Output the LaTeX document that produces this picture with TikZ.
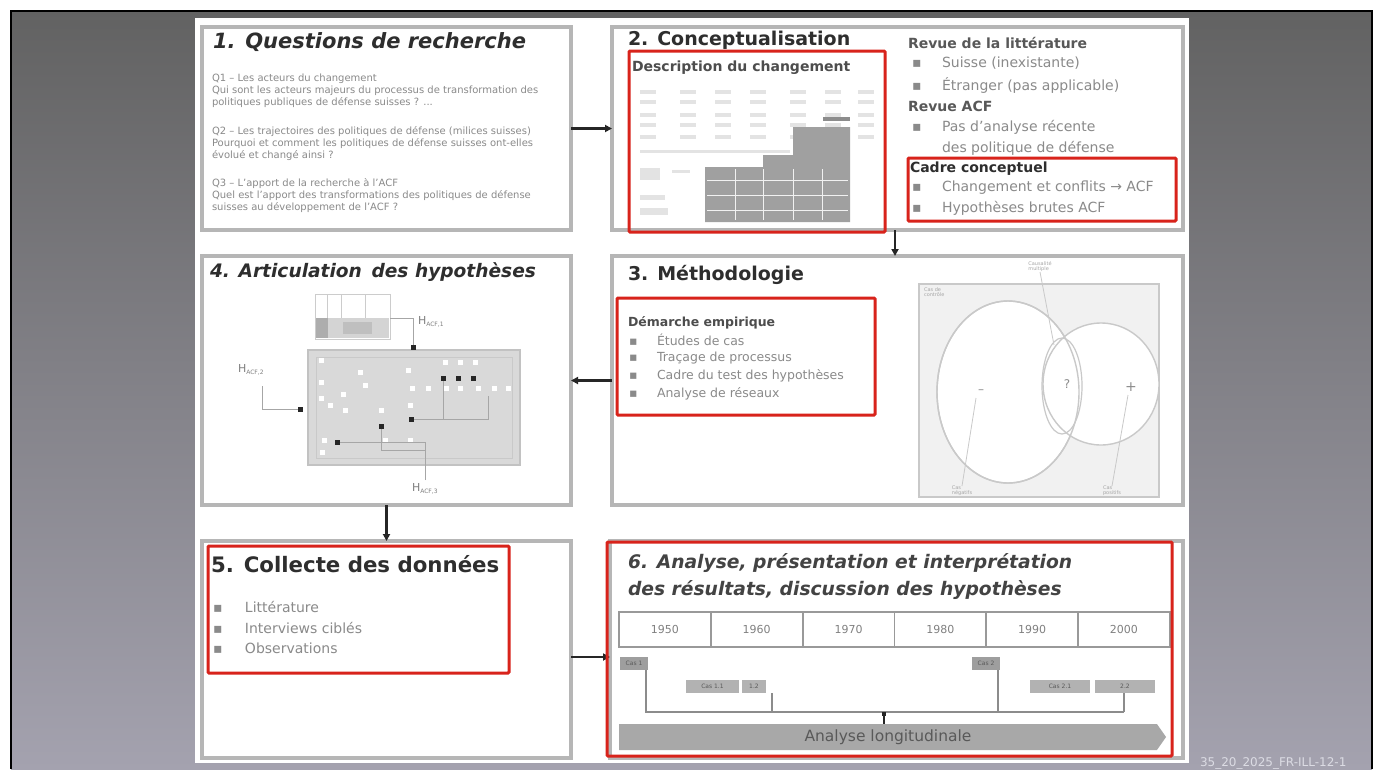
\documentclass[tikz,border=0pt]{standalone}
\usepackage{fontspec}
\setmainfont{DejaVu Sans}
\usetikzlibrary{arrows.meta,shapes.geometric,shapes.arrows}
\definecolor{boxgray}{HTML}{B6B6B6}
\definecolor{redc}{HTML}{D8231B}
\definecolor{txtg}{HTML}{8A8A8A}
\definecolor{txtd}{HTML}{2E2E2E}
\definecolor{bgtop}{HTML}{626262}
\definecolor{bgbot}{HTML}{A4A2AF}
\definecolor{venn}{HTML}{C9C9C9}
\definecolor{vennbg}{HTML}{F1F1F1}
\definecolor{tph}{HTML}{E3E3E3}
\definecolor{blk}{HTML}{A0A0A0}
\definecolor{footc}{HTML}{DCDCE4}
\newcommand{\fsz}[1]{\fontsize{#1}{#1}\selectfont}
\newcommand{\bul}{\makebox[30pt][l]{▪}}
\begin{document}
\begin{tikzpicture}[x=1pt,y=-1pt,
  every node/.style={inner sep=0pt,outer sep=0pt},
  panel/.style={draw=boxgray,line width=4pt,fill=white,anchor=north west},
  redbox/.style={draw=redc,line width=3pt,rounded corners=1pt,anchor=north west},
  arr/.style={draw=black!85,line width=2.2pt,-{Triangle[length=7pt,width=7pt]}},
  ttl/.style={anchor=west,text=txtd,font=\fsz{19}\bfseries},
  ttli/.style={anchor=west,text=txtd,font=\fsz{21}\bfseries\itshape},
  body/.style={anchor=north west,align=left,text=txtg,font=\fontsize{10}{12}\selectfont},
  rtxt/.style={anchor=west,text=txtg,font=\fsz{14}},
  rhd/.style={anchor=west,text=txtd!80,font=\fsz{14}\bfseries},
  sq/.style={fill=white,minimum size=5pt},
  bsq/.style={fill=black!85,minimum size=5pt},
  net/.style={draw=black!35,line width=1pt},
  tiny/.style={text=black!35,font=\fsz{5},align=left},
  lead/.style={draw=venn,line width=0.8pt},
  tl/.style={draw=black!45,line width=1.5pt},
  caslab/.style={fill=black!38,text=black!65,font=\fsz{6},minimum height=13pt,anchor=north west}
]
% background
\useasboundingbox (0,0) rectangle (1378,769);
\fill[white] (0,0) rectangle (1378,769);
\shade[top color=bgtop,bottom color=bgbot] (11,11) rectangle (1372,769);
\draw[black,line width=2.5pt] (11,769) -- (11,11) -- (1372,11) -- (1372,769);
\fill[white] (195,18) rectangle (1189,763);

% boxes
\node[panel,minimum width=369,minimum height=203] (b1) at (202,27) {};
\node[panel,minimum width=571,minimum height=203] (b2) at (612,27) {};
\node[panel,minimum width=571,minimum height=249] (b3) at (612,256) {};
\node[panel,minimum width=369,minimum height=249] (b4) at (202,256) {};
\node[panel,minimum width=369,minimum height=217] (b5) at (202,541) {};
\node[panel,minimum width=573,minimum height=217] (b6) at (610,541) {};

% connectors
\coordinate (x23) at (895,0);
\coordinate (y56) at (0,657);
\draw[arr] (b1.east) -- (b2.west);
\draw[arr] (b2.south -| x23) -- (b3.north -| x23);
\draw[arr] (b3.west) -- (b4.east);
\draw[arr] (b4.south) -- (b5.north);
\draw[arr] (b5.east |- y56) -- (b6.west |- y56);

% ---- Box 1
\node[ttli] (t1) at (213,42) {1. Questions de recherche};
\node[body] (q1) at (212,74) {Q1 – Les acteurs du changement\\Qui sont les acteurs majeurs du processus de transformation des\\politiques publiques de défense suisses ? ...};
\node[body] (q2) at (212,126) {Q2 – Les trajectoires des politiques de défense (milices suisses)\\Pourquoi et comment les politiques de défense suisses ont-elles\\évolué et changé ainsi ?};
\node[body] (q3) at (212,178) {Q3 – L'apport de la recherche à l'ACF\\Quel est l'apport des transformations des politiques de défense\\suisses au développement de l'ACF ?};

% ---- Box 2
\node[ttl] (t2) at (628,40) {2. Conceptualisation};
\node[anchor=west,text=txtd!85,font=\fsz{14}\bfseries] (d2) at (632,68) {Description du changement};
% table placeholders
\foreach \yy in {90,100,113,123,135}{
  \foreach \xx in {640,680,715,750,790,825,858}{
    \fill[tph] (\xx,\yy) rectangle ++(16,4);
  }
}
\fill[tph] (640,150) rectangle (790,153);
\fill[tph] (640,168) rectangle (660,180);
\fill[tph] (640,195) rectangle (665,200);
\fill[tph] (640,208) rectangle (668,215);
\fill[tph] (672,170) rectangle (690,173);
\fill[blk] (705,222) -- (705,167) -- (763,167) -- (763,155) -- (793,155) -- (793,127) -- (850,127) -- (850,222) -- cycle;
\fill[black!45] (823,117) rectangle (850,121);
\foreach \yy in {180,195,210}{\draw[white!85!blk,line width=0.6pt] (707,\yy) -- (848,\yy);}
\foreach \xx in {735,763,793,822}{\draw[white!85!blk,line width=0.6pt] (\xx,169) -- (\xx,220);}
% right column
\node[rhd] (r2a) at (908,43) {Revue de la littérature};
\node[rtxt] (r2c) at (912,63) {\bul Suisse (inexistante)};
\node[rtxt] (r2e) at (912,85) {\bul Étranger (pas applicable)};
\node[rhd] (r2f) at (908,106) {Revue ACF};
\node[rtxt] (r2h) at (912,127) {\bul Pas d'analyse récente};
\node[rtxt] (r2i) at (942,148) {des politique de défense};
\node[rhd,text=txtd] (r2j) at (910,169) {Cadre conceptuel};
\node[rtxt] (r2l) at (912,188) {\bul Changement et conflits → ACF};
\node[rtxt] (r2n) at (912,208) {\bul Hypothèses brutes ACF};

% ---- Box 3
\node[ttl] (t3) at (628,275) {3. Méthodologie};
\node[anchor=west,text=txtd!85,font=\fsz{12.5}\bfseries] (m0) at (628,323) {Démarche empirique};
\foreach \yy/\tt [count=\i] in {340/Études de cas,358/Traçage de processus,376/Cadre du test des hypothèses,394/Analyse de réseaux}{
  \node[anchor=west,text=txtg,font=\fsz{12.5}] (m\i) at (629,\yy) {\makebox[28pt][l]{▪}\tt};
}
% Venn
\node[draw=venn,fill=vennbg,line width=1.5pt,minimum width=240,minimum height=213,anchor=north west] (vrect) at (919,284) {};
\node[ellipse,draw=venn,fill=white,line width=1.4pt,minimum width=142,minimum height=182] (vbig) at (1008,392) {};
\node[ellipse,draw=venn,fill=white,line width=1.4pt,minimum width=116,minimum height=122] (vsmall) at (1101,384) {};
\node[ellipse,draw=venn,line width=1.4pt,minimum width=142,minimum height=182] (vbig2) at (1008,392) {};
\node[ellipse,draw=venn,line width=1.2pt,minimum width=40,minimum height=96] (vlens) at (1062,386) {};
\node[text=black!45,font=\fsz{12}] (vm) at (981,392) {–};
\node[text=black!45,font=\fsz{12}] (vq) at (1067,384) {?};
\node[text=black!45,font=\fsz{14}] (vp) at (1131,387) {+};
\node[tiny,anchor=south] (lt) at (1040,272) {Causalité\\multiple};
\node[tiny,anchor=north west] (ltl) at (924,288) {Cas de\\contrôle};
\node[tiny,anchor=north] (lbl) at (962,486) {Cas\\négatifs};
\node[tiny,anchor=north] (lbr) at (1112,486) {Cas\\positifs};
\draw[lead] (lt.south) -- (1054,345);
\draw[lead] (lbl.north) -- (976,398);
\draw[lead] (lbr.north) -- (1128,395);

% ---- Box 4
\node[ttli,font=\fsz{18.6}\bfseries\itshape] (t4) at (210,272) {4. Articulation\, des hypothèses};
\node[draw=black!20,fill=white,line width=1pt,minimum width=75,minimum height=45,anchor=north west] (tbl) at (315,294) {};
\foreach \xx in {327,341,365}{\draw[black!20,line width=1pt] (\xx,294) -- (\xx,318);}
\fill[black!17] (316,318) rectangle (389,338);
\fill[black!32] (316,318) rectangle (328,338);
\fill[black!25] (343,322) rectangle (372,334);
\node[draw=black!24,fill=black!15,line width=2pt,minimum width=212,minimum height=115,anchor=north west] (npan) at (308,350) {};
\draw[black!21,line width=1pt] (316,357) rectangle (512,458);
\draw[net] (411,419) -- (488,419) -- (488,396);
\draw[net] (443,378) -- (443,419);
\draw[net] (381,426) -- (381,450) -- (425,450);
\foreach \p in {(321,360),(321,382),(321,398),(330,405),(345,410),(365,385),(343,394),(408,370),(445,362),(460,362),(475,362),(412,388),(428,388),(446,388),(460,388),(478,388),(494,388),(508,388),(381,410),(410,405),(324,440),(322,452),(385,440),(410,440),(360,372)}{
  \node[sq] at \p {};
}
\foreach \p in {(443,378),(458,378),(473,378),(381,426),(411,419)}{
  \node[bsq] at \p {};
}
\node[bsq] (h1e) at (413,347) {};
\node[bsq] (h2e) at (300,409) {};
\node[bsq] (h3e) at (337,442) {};
\node[anchor=west,text=black!50,font=\fsz{11}] (h1) at (418,322) {H\textsubscript{\fsz{6}ACF,1}};
\node[anchor=west,text=black!50,font=\fsz{11}] (h2) at (238,370) {H\textsubscript{\fsz{6}ACF,2}};
\node[anchor=west,text=black!50,font=\fsz{11}] (h3) at (412,489) {H\textsubscript{\fsz{6}ACF,3}};
\draw[net] (tbl.east |- 0,318) -- (413,318) -- (h1e);
\draw[net] (262,386) -- (262,409) -- (h2e);
\draw[net] (425,480) -- (425,442) -- (h3e);

% ---- Box 5
\node[ttl,font=\fsz{21.3}\bfseries] (t5) at (211,564) {5. Collecte des données};
\foreach \yy/\tt [count=\i] in {607/Littérature,628/Interviews ciblés,648/Observations}{
  \node[anchor=west,text=txtg,font=\fsz{14}] (c\i) at (213,\yy) {\makebox[32pt][l]{▪}\tt};
}

% ---- Box 6
\node[ttli,font=\fsz{18.7}\bfseries\itshape,text=txtd!90] (t6a) at (628,563) {6. Analyse, présentation et interprétation};
\node[ttli,font=\fsz{18.7}\bfseries\itshape,text=txtd!90] (t6b) at (628,590) {des résultats, discussion des hypothèses};
\foreach \yr [count=\i] in {1950,1960,1970,1980,1990,2000}{
  \node[draw=black!40,line width=1.8pt,minimum width=91.8,minimum height=35,anchor=north west,text=black!50,font=\fsz{11}] (yr\i) at ({619+(\i-1)*91.8},612) {\yr};
}
\node[caslab,minimum width=28] (cas1) at (620,657) {Cas 1};
\node[caslab,minimum width=28] (cas2) at (972,657) {Cas 2};
\node[caslab,minimum width=53,fill=black!30] (s11) at (686,680) {Cas 1.1};
\node[caslab,minimum width=24,fill=black!30] (s12) at (742,680) {1.2};
\node[caslab,minimum width=60,fill=black!30] (s21) at (1030,680) {Cas 2.1};
\node[caslab,minimum width=60,fill=black!30] (s22) at (1095,680) {2.2};
\draw[tl] (cas1.south -| 646,0) -- (646,712) -- (1124,712);
\draw[tl] (s12.south -| 772,0) -- (772,712);
\draw[tl] (cas2.south -| 998,0) -- (998,712);
\draw[tl] (s22.south -| 1124,0) -- (1124,712);
\node[single arrow,fill=black!34,minimum height=547,minimum width=26,single arrow head extend=0pt,single arrow tip angle=110,anchor=west,text=black!65,font=\fsz{15.5}] (longi) at (619,737) {Analyse longitudinale};
\draw[black!85,line width=1.5pt] (884,712) -- (longi.north -| 884,0);
\fill[black!85] (882,712) rectangle (886,716);

% red highlights
\node[redbox,minimum width=256,minimum height=181] (r1) at (629,51) {};
\node[redbox,minimum width=268,minimum height=63] (rr2) at (908,158) {};
\node[redbox,minimum width=258,minimum height=117] (r3) at (617,298) {};
\node[redbox,minimum width=301,minimum height=127] (r4) at (208,546) {};
\node[redbox,minimum width=565,minimum height=214] (r5) at (607,542) {};

% footer
\node[anchor=west,text=footc,font=\fsz{12}] (foot) at (1200,763) {35\_20\_2025\_FR-ILL-12-1};
\end{tikzpicture}
\end{document}
